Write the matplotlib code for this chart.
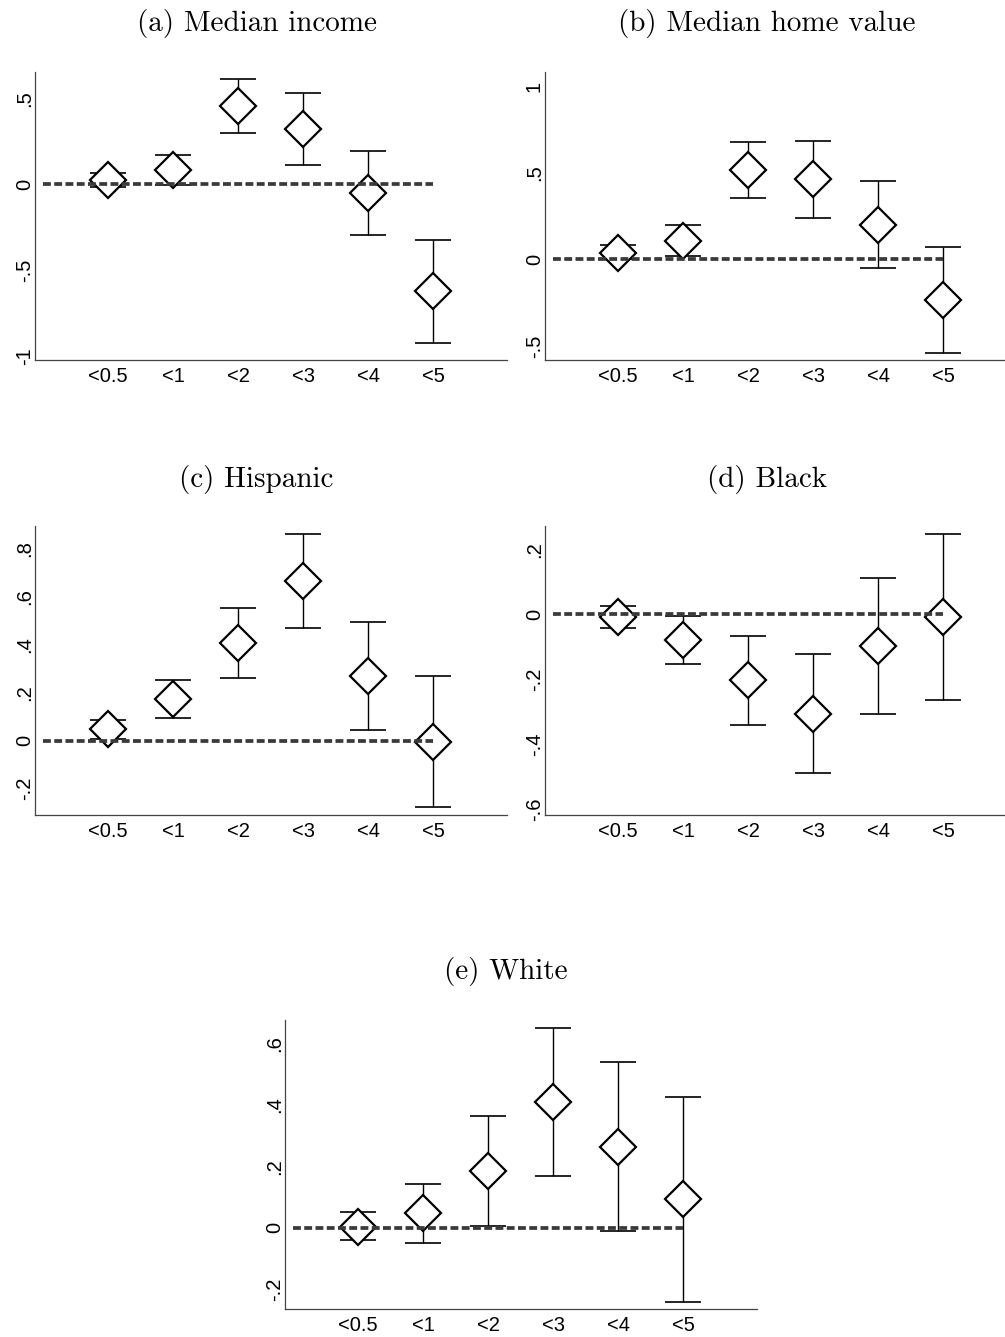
import matplotlib
matplotlib.use("Agg")
import matplotlib.pyplot as plt
import numpy as np

plt.rcParams['font.family'] = ['Liberation Sans', 'DejaVu Sans']
plt.rcParams['axes.formatter.use_mathtext'] = True

# --- data ------------------------------
cats = ["<0.5", "<1", "<2", "<3", "<4", "<5"]

income_est = [0.025, 0.083, 0.455, 0.322, -0.052, -0.622]
income_lo = [-0.015, -0.002, 0.297, 0.110, -0.293, -0.921]
income_hi = [0.068, 0.169, 0.612, 0.533, 0.194, -0.324]

home_est = [0.038, 0.106, 0.515, 0.462, 0.200, -0.235]
home_lo = [0.000, 0.021, 0.352, 0.240, -0.052, -0.538]
home_hi = [0.081, 0.196, 0.679, 0.681, 0.450, 0.069]

hisp_est = [0.048, 0.175, 0.404, 0.663, 0.269, -0.006]
hisp_lo = [0.008, 0.096, 0.259, 0.470, 0.044, -0.277]
hisp_hi = [0.084, 0.253, 0.551, 0.859, 0.492, 0.267]

black_est = [-0.007, -0.079, -0.203, -0.305, -0.097, -0.007]
black_lo = [-0.042, -0.152, -0.339, -0.489, -0.307, -0.263]
black_hi = [0.026, -0.005, -0.067, -0.122, 0.113, 0.247]

white_est = [0.003, 0.047, 0.184, 0.409, 0.264, 0.093]
white_lo = [-0.040, -0.049, 0.005, 0.169, -0.011, -0.241]
white_hi = [0.050, 0.143, 0.364, 0.650, 0.539, 0.426]

titles = ["(a) Median income", "(b) Median home value", "(c) Hispanic",
          "(d) Black", "(e) White"]

income_ticks = [-1, -0.5, 0, 0.5]
income_ticklabels = ["-1", "-.5", "0", ".5"]
home_ticks = [-0.5, 0, 0.5, 1]
home_ticklabels = ["-.5", "0", ".5", "1"]
hisp_ticks = [-0.2, 0, 0.2, 0.4, 0.6, 0.8]
hisp_ticklabels = ["-.2", "0", ".2", ".4", ".6", ".8"]
black_ticks = [-0.6, -0.4, -0.2, 0, 0.2]
black_ticklabels = ["-.6", "-.4", "-.2", "0", ".2"]
white_ticks = [-0.2, 0, 0.2, 0.4, 0.6]
white_ticklabels = ["-.2", "0", ".2", ".4", ".6"]

W, H = 1005, 1337


def rect(left, top, bottom, width=472):
    # pixel box -> figure fraction
    return [left / W, 1 - bottom / H, width / W, (bottom - top) / H]


def coef_panel(ax, est, lo, hi, ticks, ticklabels, ylim):
    x = np.arange(1, len(cats) + 1)
    est = np.array(est)
    yerr = [est - np.array(lo), np.array(hi) - est]
    ax.errorbar(x, est, yerr=yerr, fmt='none', ecolor='black',
                elinewidth=1.0, capsize=13, capthick=1.2, zorder=2)
    ax.plot(x, est, linestyle='none', marker='D', markersize=18,
            markerfacecolor='white', markeredgecolor='black',
            markeredgewidth=1.6, zorder=3)
    ax.hlines(0, 0, 6, colors='#3a3a3a', linestyles=(0, (2.1, 0.9)),
              linewidth=2.7, zorder=4)

    ax.set_xlim(-0.123, 7.138)
    ax.set_ylim(*ylim)
    ax.set_xticks(x)
    ax.set_xticklabels(cats, fontsize=14.5)
    ax.set_yticks(ticks)
    ax.set_yticklabels(ticklabels, fontsize=14.5, rotation=90, va='center')
    ax.tick_params(axis='both', length=0)
    ax.tick_params(axis='x', pad=5)
    ax.tick_params(axis='y', pad=1)
    for side in ['top', 'right']:
        ax.spines[side].set_visible(False)
    for side in ['left', 'bottom']:
        ax.spines[side].set_color('#444444')
        ax.spines[side].set_linewidth(0.9)


fig = plt.figure(figsize=(W / 100, H / 100), dpi=100)

ax_a = fig.add_axes(rect(35.3, 72, 360))
coef_panel(ax_a, income_est, income_lo, income_hi,
           income_ticks, income_ticklabels, (-1.02, 0.653))

ax_b = fig.add_axes(rect(545.3, 72, 360))
coef_panel(ax_b, home_est, home_lo, home_hi,
           home_ticks, home_ticklabels, (-0.581, 1.081))

ax_c = fig.add_axes(rect(35.3, 526, 815))
coef_panel(ax_c, hisp_est, hisp_lo, hisp_hi,
           hisp_ticks, hisp_ticklabels, (-0.309, 0.892))

ax_d = fig.add_axes(rect(545.3, 526, 815))
coef_panel(ax_d, black_est, black_lo, black_hi,
           black_ticks, black_ticklabels, (-0.617, 0.272))

ax_e = fig.add_axes(rect(285.3, 1020, 1309))
coef_panel(ax_e, white_est, white_lo, white_hi,
           white_ticks, white_ticklabels, (-0.265, 0.676))

# panel titles (LaTeX look)
title_pos = [(257, 24), (767, 24), (256, 479), (767, 479), (506, 972)]
for t, (px, py) in zip(titles, title_pos):
    fig.text(px / W, 1 - py / H, t, family='cmr10', fontsize=21,
             ha='center', va='center')

fig.savefig("out.png", dpi=100)
